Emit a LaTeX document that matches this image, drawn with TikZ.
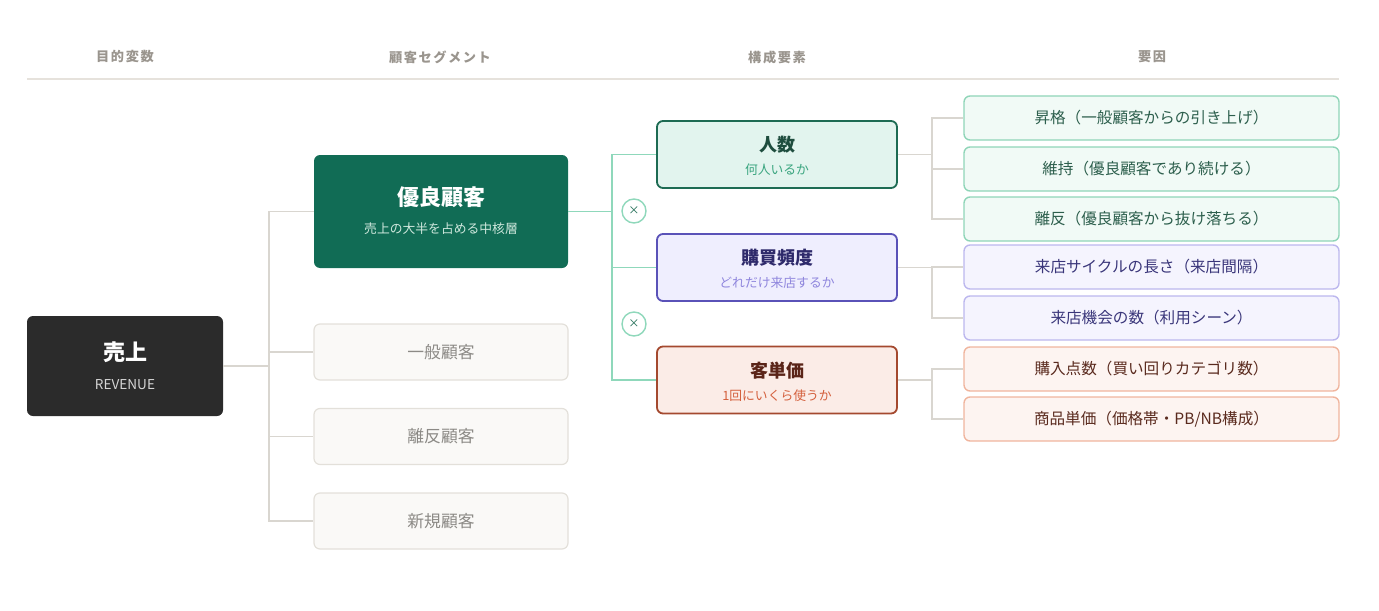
\documentclass[tikz,border=0pt]{standalone}
\usepackage{fontspec}
\setmainfont{Noto Sans CJK JP}
\newfontfamily\headfont[LetterSpace=12]{Noto Sans CJK JP}
\usetikzlibrary{positioning}
\definecolor{headgray}{HTML}{9A958E}
\definecolor{rulegray}{HTML}{E6E2DC}
\definecolor{darkbox}{HTML}{2B2B2B}
\definecolor{mainseg}{HTML}{116C55}
\definecolor{mainsub}{HTML}{CFE8DD}
\definecolor{segfill}{HTML}{FAF9F7}
\definecolor{segline}{HTML}{E3E0DA}
\definecolor{segtext}{HTML}{8C8A86}
\definecolor{linkgray}{HTML}{D9D6D0}
\definecolor{linkgreen}{HTML}{8FD8BB}
\definecolor{grnfill}{HTML}{E2F4EE}
\definecolor{grnline}{HTML}{1D6B53}
\definecolor{grntitle}{HTML}{1E4D3E}
\definecolor{grnsub}{HTML}{3AA57F}
\definecolor{purfill}{HTML}{EFEEFE}
\definecolor{purline}{HTML}{5A52B8}
\definecolor{purtitle}{HTML}{2E2A6B}
\definecolor{pursub}{HTML}{8F86DD}
\definecolor{orgfill}{HTML}{FBECE7}
\definecolor{orgline}{HTML}{A4492F}
\definecolor{orgtitle}{HTML}{5A2418}
\definecolor{orgsub}{HTML}{D4603D}
\definecolor{fgrnfill}{HTML}{F1FAF6}
\definecolor{fgrnline}{HTML}{8FD5B8}
\definecolor{fgrntext}{HTML}{2D5F4D}
\definecolor{fpurfill}{HTML}{F5F4FE}
\definecolor{fpurline}{HTML}{BCB7EE}
\definecolor{fpurtext}{HTML}{3A367A}
\definecolor{forgfill}{HTML}{FDF4F1}
\definecolor{forgline}{HTML}{F0B59E}
\definecolor{forgtext}{HTML}{5A2A1E}
\tikzset{
  headtext/.style={text=headgray,font=\headfont\fontsize{6.6pt}{8pt}\selectfont\bfseries},
  rootbox/.style={fill=darkbox,rounded corners=3pt,minimum width=98pt,minimum height=50pt,inner sep=0pt},
  mainbox/.style={fill=mainseg,rounded corners=3pt,minimum width=127pt,minimum height=56.5pt,inner sep=0pt},
  segbox/.style={draw=segline,line width=0.6pt,fill=segfill,rounded corners=3pt,minimum width=127pt,minimum height=28pt,inner sep=0pt,text=segtext,font=\fontsize{8.4pt}{10pt}\selectfont},
  compbox/.style={line width=0.9pt,rounded corners=3pt,minimum width=120pt,minimum height=33.5pt,inner sep=0pt},
  factbox/.style={line width=0.7pt,rounded corners=3pt,minimum width=187.5pt,minimum height=22pt,inner sep=0pt,font=\fontsize{7.8pt}{9pt}\selectfont},
  bigtitle/.style={font=\fontsize{11pt}{13pt}\selectfont\bfseries},
  comptitle/.style={font=\fontsize{9pt}{11pt}\selectfont\bfseries},
  smalltext/.style={font=\fontsize{6.4pt}{8pt}\selectfont},
  grayline/.style={draw=linkgray,line width=0.75pt},
  greenline/.style={draw=linkgreen,line width=0.75pt},
  kakeru/.style={circle,draw=linkgreen,line width=0.7pt,fill=white,minimum size=12pt,inner sep=0pt,text=grnline,font=\fontsize{5.6pt}{7pt}\selectfont}
}
\begin{document}
\begin{tikzpicture}[x=0.5pt,y=-0.5pt]
    \useasboundingbox (0,0) rectangle (1379,610);
    \node[headtext] (h1) at (125,57) {目的変数};
    \node[headtext] (h2) at (440,57) {顧客セグメント};
    \node[headtext] (h3) at (777,57) {構成要素};
    \node[headtext] (h4) at (1152,57) {要因};
    \draw[rulegray,line width=0.6pt] (27,79) -- (1339,79);

    \node[rootbox] (uriage) at (125,366) {};
    \node[bigtitle,text=white] (uriage-t) at (125,352) {売上};
    \node[smalltext,text=white!80!darkbox,font=\fontsize{6.8pt}{8pt}\selectfont] (uriage-s) at (125,385) {REVENUE};

    \node[mainbox] (yuryo) at (441,211.5) {};
    \node[bigtitle,text=white] (yuryo-t) at (441,197) {優良顧客};
    \node[smalltext,text=mainsub] (yuryo-s) at (441,229) {売上の大半を占める中核層};
    \node[segbox] (ippan) at (441,352) {一般顧客};
    \node[segbox] (rihan) at (441,436.5) {離反顧客};
    \node[segbox] (shinki) at (441,521) {新規顧客};

    \node[compbox,draw=grnline,fill=grnfill] (ninzu) at (777,154.5) {};
    \node[comptitle,text=grntitle] (ninzu-t) at (777,145) {人数};
    \node[smalltext,text=grnsub] (ninzu-s) at (777,170) {何人いるか};
    \node[compbox,draw=purline,fill=purfill] (hindo) at (777,267.5) {};
    \node[comptitle,text=purtitle] (hindo-t) at (777,258) {購買頻度};
    \node[smalltext,text=pursub] (hindo-s) at (777,283) {どれだけ来店するか};
    \node[compbox,draw=orgline,fill=orgfill] (tanka) at (777,380) {};
    \node[comptitle,text=orgtitle] (tanka-t) at (777,371) {客単価};
    \node[smalltext,text=orgsub] (tanka-s) at (777,396) {1回にいくら使うか};

    \node[factbox,draw=fgrnline,fill=fgrnfill,text=fgrntext] (shokaku) at (1151.5,118) {昇格（一般顧客からの引き上げ）};
    \node[factbox,draw=fgrnline,fill=fgrnfill,text=fgrntext] (iji) at (1151.5,169) {維持（優良顧客であり続ける）};
    \node[factbox,draw=fgrnline,fill=fgrnfill,text=fgrntext] (ridatsu) at (1151.5,219) {離反（優良顧客から抜け落ちる）};
    \node[factbox,draw=fpurline,fill=fpurfill,text=fpurtext] (cycle) at (1151.5,267) {来店サイクルの長さ（来店間隔）};
    \node[factbox,draw=fpurline,fill=fpurfill,text=fpurtext] (kikai) at (1151.5,318) {来店機会の数（利用シーン）};
    \node[factbox,draw=forgline,fill=forgfill,text=forgtext] (tensu) at (1151.5,369) {購入点数（買い回りカテゴリ数）};
    \node[factbox,draw=forgline,fill=forgfill,text=forgtext] (shohin) at (1151.5,419) {商品単価（価格帯・PB/NB構成）};

    \coordinate (j1) at (269,366);
    \draw[grayline] (uriage.east) -- (j1);
    \draw[grayline] (j1) |- (yuryo.west);
    \draw[grayline] (j1) |- (ippan.west);
    \draw[grayline] (j1) |- (rihan.west);
    \draw[grayline] (j1) |- (shinki.west);

    \coordinate (j2) at (612,211.5);
    \draw[greenline] (yuryo.east) -- (j2);
    \draw[greenline] (j2) |- (ninzu.west);
    \draw[greenline] (j2) |- (hindo.west);
    \draw[greenline] (j2) |- (tanka.west);
    \node[kakeru] (kake1) at (634,211) {×};
    \node[kakeru] (kake2) at (634,324) {×};

    \coordinate (j3) at (932,154.5);
    \draw[grayline] (ninzu.east) -- (j3);
    \draw[grayline] (j3) |- (shokaku.west);
    \draw[grayline] (j3) |- (iji.west);
    \draw[grayline] (j3) |- (ridatsu.west);
    \coordinate (j4) at (932,267.5);
    \draw[grayline] (hindo.east) -- (j4);
    \draw[grayline] (j4) |- (cycle.west);
    \draw[grayline] (j4) |- (kikai.west);
    \coordinate (j5) at (932,380);
    \draw[grayline] (tanka.east) -- (j5);
    \draw[grayline] (j5) |- (tensu.west);
    \draw[grayline] (j5) |- (shohin.west);
\end{tikzpicture}
\end{document}
